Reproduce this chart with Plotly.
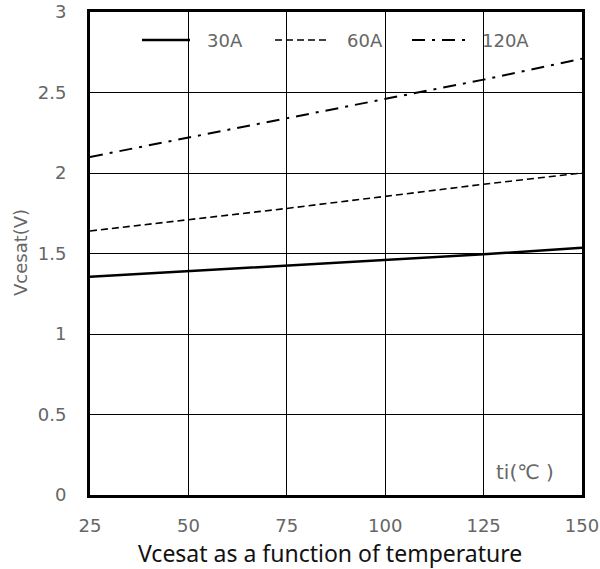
import plotly.graph_objects as go

temps = [25, 50, 75, 100, 125, 150]
v_30a = [1.355, 1.39, 1.425, 1.46, 1.495, 1.535]
v_60a = [1.64, 1.71, 1.78, 1.855, 1.93, 2.0]
v_120a = [2.10, 2.22, 2.34, 2.46, 2.58, 2.71]
series_names = ["30A", "60A", "120A"]
x_ticks = [25, 50, 75, 100, 125, 150]
y_ticks = [0, 0.5, 1, 1.5, 2, 2.5, 3]
y_tick_labels = ["0", "0.5", "1", "1.5", "2", "2.5", "3"]

gray = "#666666"
line_styles = [dict(color="black", width=2.5),
               dict(color="black", width=1.6, dash="7px,4px"),
               dict(color="black", width=2, dash="13px,7px,3px,7px")]

fig = go.Figure()
for name, vals, ls in zip(series_names, [v_30a, v_60a, v_120a], line_styles):
    fig.add_trace(go.Scatter(x=temps, y=vals, mode="lines", name=name, line=ls, showlegend=False))

L, R, T, B = 90, 18, 12, 74
PW, PH = 600 - L - R, 569 - T - B


def px_x(px):
    return (px - L) / PW


def px_y(py):
    return (569 - B - py) / PH


fig.update_layout(
    width=600, height=569,
    margin=dict(l=L, r=R, t=T, b=B, autoexpand=False),
    paper_bgcolor="white", plot_bgcolor="white",
    font=dict(family="DejaVu Sans", size=18, color=gray),
    showlegend=False,
    xaxis=dict(range=[25, 150], tickvals=x_ticks, showgrid=True, gridcolor="black", gridwidth=1,
               showline=True, linecolor="black", linewidth=3, mirror=True, zeroline=False,
               ticks="", ticklabelstandoff=12, automargin=False),
    yaxis=dict(range=[0, 3], tickvals=y_ticks, ticktext=y_tick_labels, showgrid=True,
               gridcolor="black", gridwidth=1, showline=True, linecolor="black", linewidth=3,
               mirror=True, zeroline=False, ticks="", ticklabelstandoff=17, automargin=False),
)

# manual legend (samples + labels)
legend_pos = [(142, 190, 205), (275, 330, 345), (412, 465, 480)]
for name, ls, (x0, x1, xt) in zip(series_names, line_styles, legend_pos):
    fig.add_shape(type="line", xref="paper", yref="paper", x0=px_x(x0), x1=px_x(x1),
                  y0=px_y(40), y1=px_y(40), line=ls)
    fig.add_annotation(x=px_x(xt), y=px_y(41), xref="paper", yref="paper", text=name,
                       showarrow=False, xanchor="left", yanchor="middle",
                       font=dict(family="DejaVu Sans", size=18, color=gray))

fig.add_annotation(x=px_x(330), y=px_y(553), xref="paper", yref="paper",
                   text="Vcesat as a function of temperature", showarrow=False, yanchor="middle",
                   font=dict(family="Noto Sans", size=23, color="#111111"))
fig.add_annotation(x=px_x(20), y=px_y(253), xref="paper", yref="paper",
                   text="Vcesat(V)", showarrow=False, textangle=-90, xanchor="center", yanchor="middle",
                   font=dict(family="DejaVu Sans", size=18, color=gray))
fig.add_annotation(x=px_x(525), y=px_y(472), xref="paper", yref="paper", text="ti(℃ )",
                   showarrow=False, xanchor="center", yanchor="middle",
                   font=dict(family="DejaVu Sans", size=20, color=gray))
fig.write_html("out.html")
